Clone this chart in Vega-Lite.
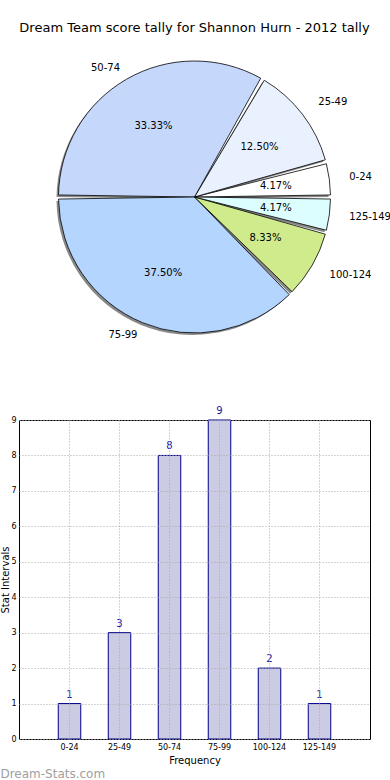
{
  "$schema": "https://vega.github.io/schema/vega-lite/v6.json",
  "padding": {"left": 0, "top": 22, "right": 0, "bottom": 0},
  "bounds": "flush",
  "spacing": 75,
  "config": {
    "font": "DejaVu Sans",
    "view": {"stroke": "black", "strokeWidth": 1},
    "title": {"font": "DejaVu Sans", "fontWeight": "normal", "color": "black"},
    "axis": {"labelFont": "DejaVu Sans", "titleFont": "DejaVu Sans", "labelColor": "black", "titleColor": "black"}
  },
  "title": {"text": "Dream-Stats.com", "orient": "bottom", "anchor": "start", "frame": "bounds", "fontSize": 12, "color": "#a0a0a0", "fontWeight": "normal", "offset": 3},
  "data": {
    "values": [
      {"i": 1, "range": "0-24", "count": 1, "pct": "4.17%"},
      {"i": 2, "range": "25-49", "count": 3, "pct": "12.50%"},
      {"i": 3, "range": "50-74", "count": 8, "pct": "33.33%"},
      {"i": 4, "range": "75-99", "count": 9, "pct": "37.50%"},
      {"i": 5, "range": "100-124", "count": 2, "pct": "8.33%"},
      {"i": 6, "range": "125-149", "count": 1, "pct": "4.17%"}
    ]
  },
  "vconcat": [
    {
      "width": 351,
      "height": 296,
      "view": {"stroke": null},
      "title": {"text": "Dream Team score tally for Shannon Hurn - 2012 tally", "fontSize": 13, "fontWeight": "normal", "offset": 14, "color": "black"},
      "encoding": {
        "theta": {"field": "count", "type": "quantitative", "stack": true, "scale": {"range": [1.5708, -4.7124]}},
        "order": {"field": "i", "type": "quantitative"}
      },
      "layer": [
        {"mark": {"type": "arc", "outerRadius": 136, "padAngle": 0.03, "color": "#888888", "xOffset": -2, "yOffset": 2}},
        {
          "mark": {"type": "arc", "outerRadius": 136, "padAngle": 0.03, "stroke": "black", "strokeWidth": 0.8},
          "encoding": {
            "color": {
              "field": "range", "type": "nominal",
              "scale": {
                "domain": ["0-24", "25-49", "50-74", "75-99", "100-124", "125-149"],
                "range": ["#ffffff", "#eaf1fe", "#c5d8fc", "#b4d5fd", "#d0eb8c", "#dcfefe"]
              },
              "legend": null
            }
          }
        },
        {"mark": {"type": "text", "radius": 82, "fontSize": 10, "color": "black"}, "encoding": {"text": {"field": "pct"}}},
        {
          "mark": {"type": "text", "radius": 149, "fontSize": 10, "align": "right", "color": "black"},
          "encoding": {"text": {"condition": {"test": "datum.range=='50-74'||datum.range=='75-99'", "field": "range"}, "value": ""}}
        },
        {
          "mark": {"type": "text", "radius": 156, "fontSize": 10, "align": "left", "color": "black"},
          "encoding": {"text": {"condition": {"test": "datum.range!='50-74'&&datum.range!='75-99'", "field": "range"}, "value": ""}}
        }
      ]
    },
    {
      "width": 351,
      "height": 319,
      "encoding": {
        "x": {
          "field": "range", "type": "ordinal", "sort": null,
          "scale": {"paddingInner": 0.55, "paddingOuter": 0.785},
          "axis": {"title": "Frequency", "labelAngle": 0, "labelFontSize": 8, "titleFontSize": 10, "titleFontWeight": "normal", "labelPadding": 4, "titlePadding": 4, "ticks": false, "domain": false, "grid": true, "gridDash": [1, 2], "gridColor": "#a8a8a8", "zindex": 1}
        },
        "y": {
          "field": "count", "type": "quantitative",
          "scale": {"domain": [0, 9], "nice": false},
          "axis": {"title": "Stat Intervals", "values": [0, 1, 2, 3, 4, 5, 6, 7, 8, 9], "labelFontSize": 8, "titleFontSize": 10, "titleFontWeight": "normal", "labelPadding": 3, "titlePadding": 0, "ticks": false, "domain": false, "grid": true, "gridDash": [1, 2], "gridColor": "#a8a8a8", "zindex": 1}
        }
      },
      "layer": [
        {"mark": {"type": "bar", "fill": "#cbcbe3", "stroke": "#00008b", "strokeWidth": 1}},
        {"mark": {"type": "text", "dy": -9, "fontSize": 10, "color": "#1a1aa0"}, "encoding": {"text": {"field": "count", "type": "quantitative"}}}
      ]
    }
  ]
}
